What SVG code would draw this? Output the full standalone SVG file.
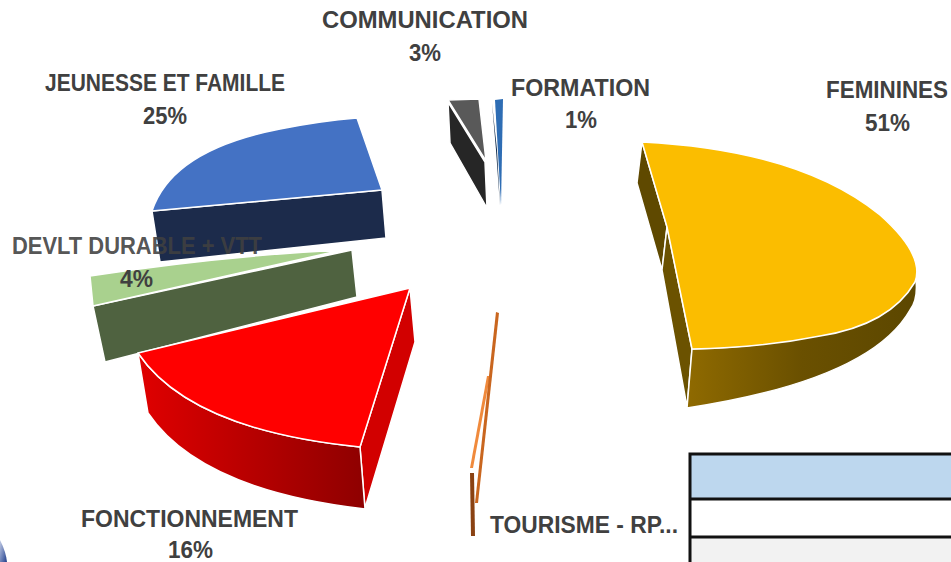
<svg xmlns="http://www.w3.org/2000/svg" width="951" height="562" viewBox="0 0 951 562">
<style>
.lbl{font-family:"Liberation Sans",Arial,sans-serif;font-weight:bold;font-size:23px;fill:#404040}
.edge{stroke:#ffffff;stroke-width:1.5;stroke-linejoin:round}
</style>
<defs>
<linearGradient id="gRed" x1="0" y1="0" x2="1" y2="0">
<stop offset="0" stop-color="#e00000"/><stop offset="1" stop-color="#8e0000"/>
</linearGradient>
<linearGradient id="gGold" x1="0" y1="0" x2="1" y2="0">
<stop offset="0" stop-color="#8f6a00"/><stop offset="0.5" stop-color="#6a5000"/><stop offset="1" stop-color="#5c4700"/>
</linearGradient>
<linearGradient id="gCorner" x1="0" y1="0" x2="1" y2="1">
<stop offset="0" stop-color="#2a4aa0" stop-opacity="0.3"/><stop offset="1" stop-color="#1f3c88"/>
</linearGradient>
</defs>
<rect width="951" height="562" fill="#ffffff"/>

<g id="slice-jeunesse">
<path class="edge" d="M152,211 L382,190 L386,238 L160,262 Z" fill="#1c2b4b"/>
<path class="edge" d="M152,211 Q172,150 280,129 Q320,121 357,118 L382,190 Z" fill="#4472c4"/>
</g>

<g id="slice-devlt">
<path class="edge" d="M93,306 L352,250 L357,297 L105,362 Z" fill="#4f6240"/>
<path class="edge" d="M90,276 Q220,256 342,250 L93,306 Z" fill="#a9d18e"/>
</g>

<g id="slice-fonctionnement">
<path class="edge" d="M410,288 L415,342 L365,508 L360,447 Z" fill="#d20000"/>
<path class="edge" d="M138,353 L148,413 Q200,490 365,509 L360,447 Q190,430 138,353 Z" fill="url(#gRed)"/>
<path class="edge" d="M138,353 L410,288 L360,447 Q190,430 138,353 Z" fill="#ff0000"/>
</g>

<g id="slice-communication">
<path class="edge" d="M448,102 L485,162 L487,208 L450,143 Z" fill="#262626"/>
<path class="edge" d="M448,100 L479,99 L486,161 Z" fill="#595959"/>
</g>

<g id="slice-formation">
<path d="M492,103 L497,150 L500,206 L496,150 Z" fill="#0f2a4a"/>
<path d="M495,100 L503,99 L501,205 Z" fill="#2e6db4"/>
</g>

<g id="slice-tourisme">
<path d="M487,376 L490,376 L473,468 L470,468 Z" fill="#f08a3c"/>
<path d="M496,312 L499,313 L478,503 L475,503 Z" fill="#c9661f"/>
<path d="M470,473 L474,473 L475,536 L471,536 Z" fill="#8a4213"/>
</g>

<g id="slice-feminines">
<path class="edge" d="M642,142 L637,183 L662,270 L667,227 Z" fill="#5f4900"/>
<path class="edge" d="M667,227 L662,270 L687,407 L692,349 Z" fill="#6b5200"/>
<path class="edge" d="M692,349 Q860,345 916,280 Q918,300 910,310 Q870,380 687,408 Z" fill="url(#gGold)"/>
<path class="edge" d="M642,142 Q800,150 880,215 Q925,255 915,282 Q890,325 820,336 Q760,348 692,349 L667,227 Z" fill="#fbbd00"/>
</g>

<g id="table">
<rect x="690" y="454" width="270" height="45" fill="#bdd7ee"/>
<rect x="690" y="499" width="270" height="38" fill="#ffffff"/>
<rect x="690" y="537" width="270" height="30" fill="#f2f2f2"/>
<path d="M690,580 L690,454 L960,454 M690,499 L960,499 M690,537 L960,537" fill="none" stroke="#111111" stroke-width="3"/>
</g>

<g id="corner">
<path d="M0,540 Q6,552 7,562 L0,562 Z" fill="url(#gCorner)"/>
</g>

<g id="labels">
<text class="lbl" x="322" y="28" textLength="206" lengthAdjust="spacingAndGlyphs">COMMUNICATION</text>
<text class="lbl" x="409" y="61" textLength="32" lengthAdjust="spacingAndGlyphs">3%</text>
<text class="lbl" x="45" y="91" textLength="240" lengthAdjust="spacingAndGlyphs">JEUNESSE ET FAMILLE</text>
<text class="lbl" x="143" y="124" textLength="44" lengthAdjust="spacingAndGlyphs">25%</text>
<text class="lbl" x="511" y="96" textLength="139" lengthAdjust="spacingAndGlyphs">FORMATION</text>
<text class="lbl" x="565" y="128" textLength="32" lengthAdjust="spacingAndGlyphs">1%</text>
<text class="lbl" x="826" y="98" textLength="122" lengthAdjust="spacingAndGlyphs">FEMININES</text>
<text class="lbl" x="865" y="131" textLength="45" lengthAdjust="spacingAndGlyphs">51%</text>
<text class="lbl" x="12" y="254" textLength="250" lengthAdjust="spacingAndGlyphs" fill-opacity="0.9">DEVLT DURABLE + VTT</text>
<text class="lbl" x="120" y="287" textLength="33" lengthAdjust="spacingAndGlyphs">4%</text>
<text class="lbl" x="81" y="527" textLength="217" lengthAdjust="spacingAndGlyphs">FONCTIONNEMENT</text>
<text class="lbl" x="168" y="558" textLength="45" lengthAdjust="spacingAndGlyphs">16%</text>
<text class="lbl" x="490" y="533" textLength="188" lengthAdjust="spacingAndGlyphs">TOURISME - RP...</text>
</g>
</svg>
